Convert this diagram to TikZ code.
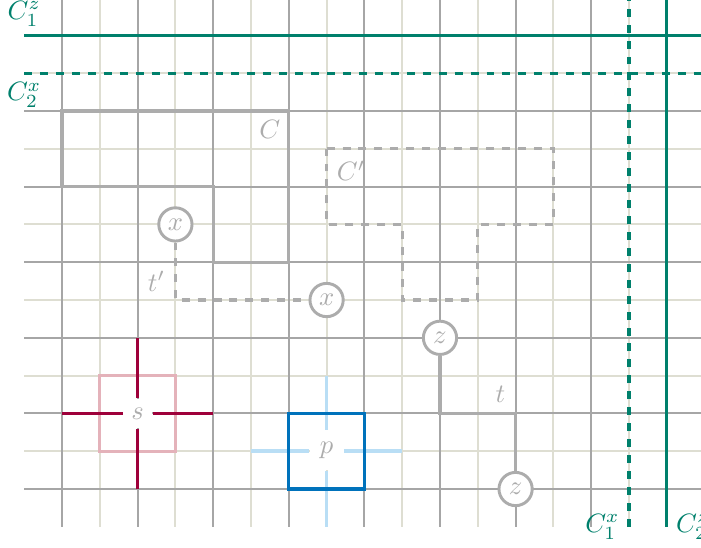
\documentclass[tikz,border=0pt]{standalone}
\definecolor{gridD}{RGB}{166,166,166}
\definecolor{gridL}{RGB}{222,222,210}
\definecolor{cgreen}{RGB}{0,128,108}
\definecolor{shapeG}{RGB}{172,172,172}
\definecolor{crim}{RGB}{158,0,58}
\definecolor{pinkL}{RGB}{228,178,186}
\definecolor{blueD}{RGB}{0,114,187}
\definecolor{blueL}{RGB}{185,222,245}
\tikzset{
  gridlight/.style={gridL, line width=0.7pt},
  griddark/.style={gridD, line width=0.7pt},
  gline/.style={cgreen, line width=1.2pt},
  glabel/.style={text=cgreen, inner sep=3.33pt},
  shapeline/.style={shapeG, line width=1.2pt},
  lbl/.style={text=shapeG, inner sep=0pt},
  circnode/.style={circle, draw=shapeG, line width=1.1pt, fill=white, text=shapeG, inner sep=0pt, minimum size=0.44cm},
  sqlbl/.style={fill=white, text=shapeG, inner sep=0pt},
}
\begin{document}
\begin{tikzpicture}[x=0.5cm,y=0.5cm]
\useasboundingbox (-1.640,-1.534) rectangle (16.905,12.937);
% grid
\foreach \i in {1,3,...,17} \draw[gridlight] (\i,-1) -- (\i,13.2);
\foreach \j in {1,3,...,11} \draw[gridlight] (-1,\j) -- (17.2,\j);
\foreach \i in {0,2,...,16} \draw[griddark] (\i,-1) -- (\i,13.2);
\foreach \j in {0,2,...,12} \draw[griddark] (-1,\j) -- (17.2,\j);
% green lines
\coordinate (h1s) at (-1,12); \coordinate (h1e) at (17.2,12);
\coordinate (h2s) at (-1,11); \coordinate (h2e) at (17.2,11);
\coordinate (v1s) at (15,-1); \coordinate (v1e) at (15,13.2);
\coordinate (v2s) at (16,-1); \coordinate (v2e) at (16,13.2);
\draw[gline] (h1s) -- (h1e);
\draw[gline, dashed] (h2s) -- (h2e);
\draw[gline, dashed] (v1s) -- (v1e);
\draw[gline] (v2s) -- (v2e);
\node[glabel, above] (l1) at (h1s) {$C_1^z$};
\node[glabel, below] (l2) at (h2s) {$C_2^x$};
\node[glabel, left] (l3) at (v1s) {$C_1^x$};
\node[glabel, right] (l4) at (v2s) {$C_2^z$};
% C and C'
\draw[shapeline] (0,10) -- (6,10) -- (6,6) -- (4,6) -- (4,8) -- (0,8) -- cycle;
\node[lbl] (Clab) at (5.5,9.5) {$C$};
\draw[shapeline, dashed] (7,9) -- (13,9) -- (13,7) -- (11,7) -- (11,5) -- (9,5) -- (9,7) -- (7,7) -- cycle;
\node[lbl] (Cplab) at (7.65,8.42) {$C'$};
% paths t' and t
\node[circnode] (x1) at (3,7) {$x$};
\node[circnode] (x2) at (7,5) {$x$};
\draw[shapeline, dashed] (x1) |- (x2);
\node[lbl] (tplab) at (2.5,5.5) {$t'$};
\node[circnode] (z1) at (10,4) {$z$};
\node[circnode] (z2) at (12,0) {$z$};
\coordinate (tm) at (11,2);
\draw[shapeline] (z1) |- (tm) -| (z2);
\node[lbl] (tlab) at (11.6,2.5) {$t$};
% s
\draw[pinkL, line width=1.2pt] (1,1) rectangle (3,3);
\node[sqlbl, minimum width=0.385cm, minimum height=0.39cm] (s) at (2,2) {$s$};
\coordinate (sW) at (0,2); \coordinate (sE) at (4,2);
\coordinate (sS) at (2,0); \coordinate (sN) at (2,4);
\draw[crim, line width=1.3pt] (sW) -- (s) -- (sE);
\draw[crim, line width=1.3pt] (sS) -- (s) -- (sN);
% p
\node[sqlbl, minimum width=0.45cm, minimum height=0.53cm] (p) at (7,1.03) {$p$};
\coordinate (pW) at (5,1); \coordinate (pE) at (9,1);
\coordinate (pS) at (7,-1); \coordinate (pN) at (7,3);
\draw[blueL, line width=1.3pt] (pW) -- (pW -| p.west);
\draw[blueL, line width=1.3pt] (pE) -- (pE -| p.east);
\draw[blueL, line width=1.3pt] (pS) -- (p.south);
\draw[blueL, line width=1.3pt] (pN) -- (p.north);
\draw[blueD, line width=1.2pt] (6,0) rectangle (8,2);
\end{tikzpicture}
\end{document}
